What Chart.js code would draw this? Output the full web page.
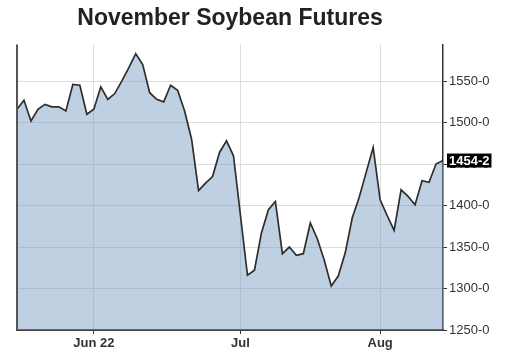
<!DOCTYPE html>
<html>
<head>
<meta charset="utf-8">
<title>November Soybean Futures</title>
<script src="https://cdn.jsdelivr.net/npm/chart.js@4/dist/chart.umd.min.js"></script>
<style>
    html, body { margin: 0; padding: 0; background: #fff; }
    #wrap { width: 505px; height: 362px; position: relative; }
</style>
</head>
<body>
<div id="wrap"><canvas id="chart"></canvas></div>
<script>

// trading days, May 16 - Aug 12 2022
let dates = [
    "May 16", "May 17", "May 18", "May 19", "May 20", "May 23", "May 24", "May 25", "May 26", "May 27", "May 31",
    "Jun 1", "Jun 2", "Jun 3", "Jun 6", "Jun 7", "Jun 8", "Jun 9", "Jun 10", "Jun 13", "Jun 14", "Jun 15",
    "Jun 16", "Jun 17", "Jun 21", "Jun 22", "Jun 23", "Jun 24", "Jun 27", "Jun 28", "Jun 29", "Jun 30",
    "Jul 1", "Jul 5", "Jul 6", "Jul 7", "Jul 8", "Jul 11", "Jul 12", "Jul 13", "Jul 14", "Jul 15",
    "Jul 18", "Jul 19", "Jul 20", "Jul 21", "Jul 22", "Jul 25", "Jul 26", "Jul 27", "Jul 28", "Jul 29",
    "Aug 1", "Aug 2", "Aug 3", "Aug 4", "Aug 5", "Aug 8", "Aug 9", "Aug 10", "Aug 11", "Aug 12"
];

let closes = [
    1516, 1527, 1502, 1516, 1522, 1519, 1519, 1514, 1546, 1545, 1510,
    1516, 1543, 1528, 1535, 1550, 1566, 1583, 1570, 1536, 1528, 1525,
    1545, 1539, 1514, 1480, 1418, 1427, 1435, 1464, 1478, 1460,
    1388, 1316, 1322, 1367, 1395, 1405, 1342, 1350, 1340, 1342,
    1379, 1360, 1334, 1303, 1315, 1343, 1385, 1410, 1440, 1470,
    1407, 1388, 1370, 1419, 1411, 1401, 1430, 1428, 1450, 1454.25
];

// which dates get a label on the x axis
let monthTicks = {"Jun 1": "Jun 22", "Jul 1": "Jul", "Aug 1": "Aug"};

let yTicks = [1250, 1300, 1350, 1400, 1450, 1500, 1550];
let lastLabel = "1454-2";

let frame = {
    id: 'frame',
    afterDatasetsDraw(chart) {
        let ctx = chart.ctx;
        let a = chart.chartArea;
        // left edge line
        ctx.save();
        ctx.strokeStyle = '#555';
        ctx.lineWidth = 2;
        ctx.beginPath();
        ctx.moveTo(a.left, a.top);
        ctx.lineTo(a.left, a.bottom);
        ctx.stroke();
        ctx.restore();
    },
    afterDraw(chart) {
        // last price box on the axis
        let ctx = chart.ctx;
        let a = chart.chartArea;
        let y = chart.scales.y.getPixelForValue(closes[closes.length - 1]);
        ctx.save();
        ctx.font = 'bold 13px "Liberation Sans", Arial, sans-serif';
        let w = ctx.measureText(lastLabel).width + 4;
        ctx.fillStyle = '#000';
        ctx.fillRect(a.right + 4, y - 7, w, 14);
        ctx.fillStyle = '#fff';
        ctx.textBaseline = 'middle';
        ctx.fillText(lastLabel, a.right + 6, y + 0.5);
        ctx.restore();
    }
};

let ctx = document.getElementById('chart');

let myChart = new Chart(ctx, {
    type: 'line',
    data: {
        labels: dates,
        datasets: [{
            data: closes,
            borderColor: '#2e2e2e',
            borderWidth: 1.7,
            backgroundColor: 'rgba(110, 150, 190, 0.45)',
            fill: 'start',
            tension: 0,
            pointRadius: 0
        }]
    },
    options: {
        responsive: true,
        maintainAspectRatio: false,
        animation: false,
        layout: { padding: { left: 17, right: 0, top: 0, bottom: 0 } },
        plugins: {
            legend: { display: false },
            tooltip: { enabled: false },
            title: {
                display: true,
                text: 'November Soybean Futures',
                fullSize: false,
                color: '#222',
                font: { family: '"Liberation Sans", Arial, sans-serif', size: 23, weight: 'bold' },
                padding: { top: 5, bottom: 12 }
            }
        },
        scales: {
            x: {
                ticks: {
                    autoSkip: false,
                    maxRotation: 0,
                    padding: 2,
                    color: '#333',
                    font: { family: '"Liberation Sans", Arial, sans-serif', size: 13, weight: 'bold' },
                    callback: function (v, i) {
                        return monthTicks[dates[i]] || '';
                    }
                },
                grid: {
                    tickLength: 4,
                    color: function (c) {
                        return monthTicks[dates[c.index]] ? '#dcdcdc' : 'rgba(0,0,0,0)';
                    },
                    tickColor: function (c) {
                        return monthTicks[dates[c.index]] ? '#333' : 'rgba(0,0,0,0)';
                    }
                },
                border: { display: true, color: '#444', width: 2 },
                afterFit: function (s) { s.height = 32; }
            },
            y: {
                position: 'right',
                min: 1250,
                max: 1594,
                afterBuildTicks: function (s) {
                    s.ticks = yTicks.map(v => ({value: v}));
                },
                ticks: {
                    padding: 2,
                    color: '#333',
                    font: { family: '"Liberation Sans", Arial, sans-serif', size: 13 },
                    callback: function (v) { return v + '-0'; }
                },
                grid: { color: '#dcdcdc', tickLength: 4, tickColor: '#333' },
                border: { display: true, color: '#333', width: 1.5 },
                afterFit: function (s) { s.width = 62; }
            }
        }
    },
    plugins: [frame]
});

</script>
</body>
</html>
